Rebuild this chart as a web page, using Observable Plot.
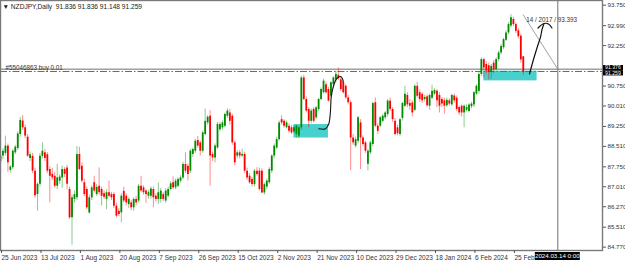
<!DOCTYPE html>
<html><head><meta charset="utf-8">
<script src="https://cdn.jsdelivr.net/npm/d3@7"></script>
<script src="https://cdn.jsdelivr.net/npm/@observablehq/plot@0.6"></script>
<style>html,body{margin:0;padding:0;background:#fff;}svg{display:block}</style>
</head><body><div id="chart"></div>
<script>
// ---- header ----
const headerText = "\u25BC NZDJPY,Daily  91.836 91.836 91.148 91.259";

// ---- daily candles (bar index 0 = 25 Jun 2023, last = 29 Feb 2024) ----
const open = [
87.94,88.15,88.25,88.52,87.62,87.72,88.27,88.43,88.95,89.45,
89.20,88.85,88.06,88.14,87.59,86.72,87.10,88.14,88.27,88.20,
87.65,87.47,87.40,87.03,87.22,87.34,87.65,87.71,86.91,85.86,
86.54,86.60,88.21,87.77,87.16,86.91,86.04,86.60,87.16,86.72,
87.03,86.91,86.75,86.54,86.79,86.72,86.72,86.29,86.10,86.04,
86.84,86.66,86.35,86.41,86.23,86.54,86.48,87.03,86.97,86.85,
86.66,86.66,86.91,86.66,86.54,86.54,86.72,86.48,86.66,86.91,
87.16,86.97,87.03,87.22,87.34,87.84,87.77,87.59,88.21,88.33,
88.73,88.64,88.33,88.95,89.38,89.63,88.21,88.08,88.45,89.13,
89.20,89.26,89.63,89.75,89.63,88.64,88.15,88.27,88.15,88.21,
87.59,87.40,87.28,87.09,87.59,87.59,87.59,86.78,87.00,87.16,
87.59,88.15,88.45,88.76,89.50,89.44,89.20,89.26,89.20,89.04,
88.95,88.89,89.20,91.05,90.25,89.88,89.44,89.88,89.57,89.88,
90.25,90.50,90.80,90.62,90.37,90.80,90.98,91.15,90.98,90.87,
90.74,90.31,90.13,88.82,88.52,88.70,89.38,88.82,88.64,87.85,
88.27,88.58,90.13,89.26,89.26,89.44,89.57,89.69,90.19,89.88,
89.44,89.20,88.95,89.55,90.00,90.40,90.10,90.12,89.85,90.74,
90.50,90.44,90.25,90.35,90.00,90.30,90.45,90.56,90.40,90.25,
90.20,90.02,90.20,90.05,90.38,90.30,89.95,90.00,89.75,89.85,
89.80,89.98,90.05,90.45,90.55,91.18,91.73,91.55,91.50,91.25,
91.60,91.36,91.73,91.98,92.17,92.45,92.72,92.98,93.22,93.03,
92.80,92.60,91.836];
const high = [
88.25,88.42,88.89,88.60,87.80,88.40,88.55,89.05,89.58,89.65,
89.30,88.95,88.30,88.25,87.70,87.15,88.25,88.64,88.40,88.28,
87.75,87.70,87.55,87.84,87.45,87.78,87.72,87.80,87.00,86.70,
86.85,88.50,88.48,87.90,87.30,87.00,86.70,87.05,87.40,87.10,
87.71,87.00,86.85,86.90,87.22,86.80,86.80,86.40,86.20,86.75,
87.00,86.75,86.60,86.50,86.60,86.65,87.10,87.40,87.05,86.90,
86.88,87.00,87.00,86.75,87.15,86.95,86.80,86.95,87.00,87.20,
87.38,87.30,87.35,87.42,87.92,88.27,87.85,88.40,88.45,88.78,
88.88,88.70,89.08,89.90,89.66,89.84,88.30,88.60,89.40,89.40,
89.45,89.75,89.90,89.88,89.70,88.70,88.35,88.35,88.40,88.30,
87.70,87.50,87.35,87.65,87.72,87.70,87.68,87.15,87.30,87.72,
88.20,88.60,88.85,89.45,89.65,89.50,89.45,89.35,89.28,89.28,
89.30,89.25,91.12,91.15,90.35,89.95,89.90,89.95,90.00,90.30,
90.68,91.00,90.90,90.70,90.92,91.10,91.30,91.42,91.10,90.95,
90.80,90.40,90.20,88.95,88.85,89.62,89.50,88.90,88.70,88.40,
88.70,90.15,90.31,89.35,89.62,89.70,89.80,90.25,90.30,89.95,
89.55,89.30,89.55,90.15,90.74,90.50,90.25,90.20,90.80,90.89,
90.60,90.50,90.40,90.42,90.45,90.78,90.65,90.62,90.50,90.32,
90.30,90.30,90.28,90.45,90.45,90.38,90.00,90.05,90.05,90.05,
90.10,90.15,90.55,90.80,91.25,91.80,91.78,91.65,91.60,91.55,
91.70,91.80,92.05,92.30,92.52,92.80,93.10,93.40,93.30,93.10,
92.88,92.66,91.836];
const low = [
87.85,88.02,88.15,87.55,87.52,87.65,88.20,88.35,88.85,89.10,
88.80,88.10,87.95,87.50,86.60,86.10,87.00,88.05,87.95,87.50,
86.41,87.25,86.95,86.90,87.10,86.95,87.35,86.90,85.80,84.84,
86.40,86.50,87.60,87.15,86.65,86.15,85.99,86.50,86.78,86.65,
86.70,86.30,86.55,86.16,86.60,86.50,86.20,85.85,85.90,85.67,
86.40,86.30,86.20,86.12,86.10,86.30,86.40,86.78,86.70,86.40,
86.55,86.55,86.23,86.45,86.35,86.40,86.45,86.40,86.60,86.85,
86.90,86.90,86.98,87.15,87.28,87.50,87.22,87.50,88.10,88.25,
88.45,88.15,88.25,88.90,89.30,87.03,87.95,87.90,88.40,89.05,
89.10,89.20,89.55,89.30,88.55,87.80,88.05,88.05,88.10,87.50,
87.25,87.10,87.00,87.00,87.40,86.85,86.75,86.70,86.90,87.10,
87.50,88.05,88.40,88.70,89.30,89.18,89.15,89.00,88.95,88.98,
88.82,88.80,89.10,90.20,89.75,89.20,89.35,89.38,89.50,89.80,
90.20,90.45,90.45,90.15,90.30,90.65,90.85,90.95,90.55,90.45,
90.25,90.05,87.60,88.55,88.45,88.60,87.65,88.50,88.25,87.60,
88.20,88.50,89.20,88.95,89.20,89.38,89.50,89.60,89.80,89.40,
88.90,88.90,88.88,89.45,89.95,89.95,89.85,89.60,89.80,90.30,
90.15,90.10,90.15,89.95,89.85,90.25,90.40,89.95,89.75,89.95,
89.70,89.95,90.00,90.00,90.10,89.80,89.65,89.60,89.20,89.78,
89.75,89.90,89.95,90.40,90.45,91.10,91.05,91.20,90.98,91.00,
91.20,91.30,91.65,91.90,92.10,92.40,92.65,92.90,92.95,92.70,
92.50,91.60,91.148];
const close = [
88.15,88.33,88.52,87.90,87.74,88.33,88.48,88.97,89.47,89.20,
88.89,88.15,88.20,87.59,86.68,87.10,88.14,88.33,88.06,87.59,
87.40,87.34,87.03,87.34,87.37,87.65,87.47,87.10,85.86,86.60,
86.72,88.21,87.65,87.22,86.72,86.23,86.60,86.97,86.85,86.99,
86.79,86.66,86.62,86.79,86.66,86.60,86.29,85.92,85.98,86.66,
86.48,86.41,86.54,86.23,86.54,86.41,87.03,86.85,86.79,86.72,
86.79,86.93,86.60,86.54,86.79,86.85,86.54,86.85,86.91,87.12,
86.97,87.22,87.28,87.34,87.84,87.59,87.47,88.33,88.39,88.70,
88.52,88.33,89.01,89.44,89.59,88.15,88.08,88.52,89.32,89.32,
89.38,89.69,89.82,89.44,88.64,87.90,88.27,88.15,88.21,87.59,
87.34,87.16,87.09,87.59,87.47,86.91,86.78,87.09,87.22,87.65,
88.15,88.52,88.76,89.38,89.38,89.26,89.38,89.07,89.01,89.20,
89.26,89.20,91.05,90.25,89.82,89.44,89.82,89.44,89.94,90.25,
90.62,90.93,90.50,90.19,90.87,91.05,91.18,91.02,90.62,90.50,
90.31,90.13,88.82,88.64,88.76,89.57,88.82,88.58,88.33,88.33,
88.64,90.10,89.26,89.07,89.57,89.63,89.75,90.19,89.88,89.50,
88.95,88.98,89.50,90.10,90.44,90.05,90.00,89.75,90.74,90.37,
90.25,90.20,90.32,90.02,90.40,90.56,90.58,90.20,90.00,90.08,
90.00,90.22,90.08,90.40,90.20,89.88,89.75,89.75,90.00,89.95,
90.05,90.08,90.50,90.74,91.18,91.73,91.42,91.30,91.25,91.48,
91.35,91.73,91.98,92.22,92.47,92.72,93.03,93.28,93.03,92.78,
92.58,91.72,91.259];

// ---- axis ticks (91.510 is hidden behind the value boxes in the reference) ----
const dateTickIndex = [0,16,32,48,64,80,96,112,128,144,160,176,192,208];
const dateTickLabels = ["25 Jun 2023","13 Jul 2023","1 Aug 2023","20 Aug 2023","7 Sep 2023","26 Sep 2023","15 Oct 2023","2 Nov 2023","21 Nov 2023","10 Dec 2023","29 Dec 2023","18 Jan 2024","6 Feb 2024","25 Feb 2024"];
const priceTicks = [93.750,92.990,92.250,90.750,90.010,89.250,88.510,87.750,87.010,86.270,85.510,84.770];

// ---- order line / crosshair / measurement ----
const orderPrice = 91.29;
const orderLabel = "#55046863 buy 0.01";
const bidPrice = 91.259;
const crossBar = 226;
const crossPrice = 91.376;
const crossDateLabel = "2024.03.14 0:00";
const measureBars = [212, 226];
const measurePrices = [93.393, 91.376];
const measureLabel = "14 / 2017 / 93.393";

// ---- cyan zones ----
const zoneFrom = [119, 196];
const zoneTo = [133, 217.6];
const zoneLow = [88.82, 90.94];
const zoneHigh = [89.32, 91.30];

// ---- hand-drawn strokes (bar index, price) ----
const stroke1Bar = [129.07,131.79,133.13,133.82,134.10,134.91,135.85,136.78,137.88,138.69,138.97];
const stroke1Price = [89.162,89.162,89.348,89.841,90.335,90.706,90.955,91.055,91.103,91.018,90.892];
const stroke2Bar = [214.52,216.02,217.64,218.98,219.67,220.32];
const stroke2Price = [91.196,91.697,92.191,92.562,92.874,93.034];
const arrowBar = [217.96,220.40,222.22,223.64];
const arrowPrice = [92.904,93.071,93.052,92.904];

// ---- build ----
const W = 625, H = 267, MR = 23, MB = 17;
const bull = "#008a00", bear = "#ff0000";
const candles = open.map((o, i) => ({i, o, h: high[i], l: low[i], c: close[i], col: close[i] >= o ? bull : bear}));
const zones = zoneFrom.map((f, k) => ({from: f, to: zoneTo[k], lo: zoneLow[k], hi: zoneHigh[k]}));
const s1 = stroke1Bar.map((b, k) => ({b, p: stroke1Price[k]}));
const s2 = stroke2Bar.map((b, k) => ({b, p: stroke2Price[k]}));
const ar = arrowBar.map((b, k) => ({b, p: arrowPrice[k]}));
const meas = measureBars.map((b, k) => ({b, p: measurePrices[k]}));
const labelMap = new Map(dateTickIndex.map((d, k) => [d, dateTickLabels[k]]));

const plot = Plot.plot({
  width: W, height: H,
  marginLeft: 0, marginTop: 0, marginRight: MR, marginBottom: MB,
  style: {fontFamily: "'Liberation Sans','DejaVu Sans',sans-serif", fontSize: "6.5px", color: "#222", background: "#fff", overflow: "visible"},
  x: {type: "linear", domain: [0, 253.45], range: [0, W]},
  y: {type: "linear", domain: [84.0137, 93.9245], range: [H, 0]},
  marks: [
    Plot.rect(zones, {x1: "from", x2: "to", y1: "lo", y2: "hi", fill: "#48d1cc"}),
    Plot.ruleY([crossPrice], {stroke: "#707070", strokeWidth: 1}),
    Plot.ruleY([orderPrice], {stroke: "#22992a", strokeWidth: 1, strokeDasharray: "7,2,1.5,2"}),
    Plot.ruleX([crossBar], {stroke: "#707070", strokeWidth: 1}),
    Plot.line(meas, {x: "b", y: "p", stroke: "#8a8a8a", strokeWidth: 0.8}),
    Plot.ruleX(candles, {x: "i", y1: "l", y2: "h", stroke: "col", strokeOpacity: 0.45, strokeWidth: 1}),
    Plot.ruleX(candles, {x: "i", y1: "o", y2: d => Math.abs(d.c - d.o) < 0.03 ? d.o + 0.035 : d.c, stroke: "col", strokeWidth: 1.8}),
    Plot.line(s1, {x: "b", y: "p", curve: "catmull-rom", stroke: "#111", strokeWidth: 1.1}),
    Plot.line(s2, {x: "b", y: "p", curve: "catmull-rom", stroke: "#111", strokeWidth: 1.2}),
    Plot.line(ar, {x: "b", y: "p", curve: "catmull-rom", stroke: "#111", strokeWidth: 1.2}),
    Plot.text([measureLabel], {x: measureBars[0], y: measurePrices[0], dx: 3, dy: 5, text: d => d, textAnchor: "start", fill: "#333", fontSize: 6.3}),
    Plot.text([orderLabel], {x: 2, y: orderPrice, dy: -3.3, text: d => d, textAnchor: "start", fill: "#333", fontSize: 6.3}),
    Plot.text([headerText], {frameAnchor: "top-left", dx: 2, dy: 6, text: d => d, textAnchor: "start", lineAnchor: "middle", fill: "#222", fontSize: 6.6}),
    Plot.frame({stroke: "#7a7a7a", strokeWidth: 1.4}),
    Plot.axisY(priceTicks, {anchor: "right", tickSize: 3, tickPadding: 2, tickFormat: d => d.toFixed(3), fontSize: 6.2, stroke: "#555", fill: "#333"}),
    Plot.axisX(dateTickIndex, {anchor: "bottom", tickSize: 3, tickPadding: 1.5, tickFormat: d => labelMap.get(d), textAnchor: "start", dx: 1, fontSize: 6.5, stroke: "#555", fill: "#333"})
  ]
});
document.getElementById("chart").appendChild(plot);

// ---- black value boxes on the axes (positions from the plot's own scales) ----
const sx = plot.scale("x"), sy = plot.scale("y");
const svg = d3.select(plot);
const gBox = svg.append("g").attr("font-family", "'Liberation Sans','DejaVu Sans',sans-serif");
function box(x, yc, w, h, txt, anchor, fs) {
  gBox.append("rect").attr("x", x).attr("y", yc - h / 2).attr("width", w).attr("height", h).attr("fill", "#000");
  gBox.append("text").attr("x", anchor === "middle" ? x + w / 2 : x + 2).attr("y", yc).attr("dy", "0.35em")
    .attr("font-size", fs).attr("text-anchor", anchor).attr("fill", "#fff").text(txt);
}
const axisX0 = W - MR + 1;
const yCross = sy.apply(crossPrice), yBid = sy.apply(bidPrice);
const mid = (yCross + yBid) / 2;
box(axisX0, mid - 2.6, 20, 5.2, crossPrice.toFixed(3), "start", 5.2);
box(axisX0, mid + 2.6, 20, 5.2, bidPrice.toFixed(3), "start", 5.2);
const cx = sx.apply(crossBar);
box(cx - 22.5, H - MB + 6, 45, 8, crossDateLabel, "middle", 6.2);
</script>
</body></html>
